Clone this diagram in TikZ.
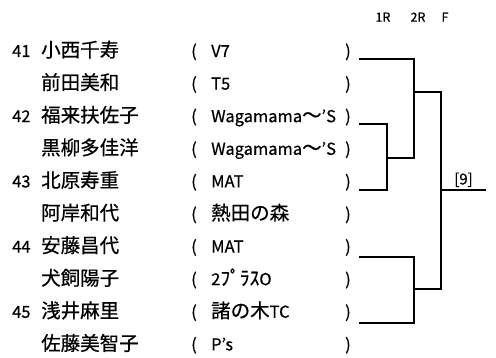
\documentclass[tikz,border=0pt]{standalone}
\usepackage{fontspec}
\setmainfont{Noto Sans CJK JP}[FakeBold=0.6]
\newcommand\bigjp[1]{{\fontsize{19.5}{19.5}\selectfont#1}}
\tikzset{
	entry/.style={anchor=base west,inner sep=0pt,font=\fontsize{16.5}{16.5}\selectfont},
	round/.style={anchor=base,inner sep=0pt,font=\fontsize{12.5}{12.5}\selectfont},
	bracket/.style={line width=2pt}
}
\begin{document}
\begin{tikzpicture}[x=1pt,y=-1pt]
	\useasboundingbox (0,0) rectangle (496,358);
	\node[round](h1)at(383,21.7){1R};
	\node[round](h2)at(418,21.7){2R};
	\node[round](h3)at(445,21.7){F};
	\path(12,57)node[entry](n1){41}(41,57)node[entry](m1){\bigjp{小西千寿}}(191,57)node[entry](l1){(}(211,57)node[entry](c1){V7}(345,57)node[entry](r1){)};
	\path(41,89.6)node[entry](m2){\bigjp{前田美和}}(191,89.6)node[entry](l2){(}(211,89.6)node[entry](c2){T5}(345,89.6)node[entry](r2){)};
	\path(12,122.2)node[entry](n3){42}(41,122.2)node[entry](m3){\bigjp{福来扶佐子}}(191,122.2)node[entry](l3){(}(211,122.2)node[entry](c3){Wagamama\bigjp{～}'S}(345,122.2)node[entry](r3){)};
	\path(41,154.8)node[entry](m4){\bigjp{黒柳多佳洋}}(191,154.8)node[entry](l4){(}(211,154.8)node[entry](c4){Wagamama\bigjp{～}'S}(345,154.8)node[entry](r4){)};
	\path(12,187.4)node[entry](n5){43}(41,187.4)node[entry](m5){\bigjp{北原寿重}}(191,187.4)node[entry](l5){(}(211,187.4)node[entry](c5){MAT}(345,187.4)node[entry](r5){)};
	\path(41,220)node[entry](m6){\bigjp{阿岸和代}}(191,220)node[entry](l6){(}(211,220)node[entry](c6){\bigjp{熱田の森}}(345,220)node[entry](r6){)};
	\path(12,252.6)node[entry](n7){44}(41,252.6)node[entry](m7){\bigjp{安藤昌代}}(191,252.6)node[entry](l7){(}(211,252.6)node[entry](c7){MAT}(345,252.6)node[entry](r7){)};
	\path(41,285.2)node[entry](m8){\bigjp{犬飼陽子}}(191,285.2)node[entry](l8){(}(211,285.2)node[entry](c8){2\bigjp{ﾌﾟﾗｽ}O}(345,285.2)node[entry](r8){)};
	\path(12,317.8)node[entry](n9){45}(41,317.8)node[entry](m9){\bigjp{浅井麻里}}(191,317.8)node[entry](l9){(}(211,317.8)node[entry](c9){\bigjp{諸の木}TC}(345,317.8)node[entry](r9){)};
	\path(41,350.4)node[entry](m10){\bigjp{佐藤美智子}}(191,350.4)node[entry](l10){(}(211,350.4)node[entry](c10){P's}(345,350.4)node[entry](r10){)};
	\coordinate(s1)at(359,59);
	\coordinate(s3)at(359,124);
	\coordinate(s5)at(359,190);
	\coordinate(s7)at(359,257);
	\coordinate(s9)at(359,323);
	\coordinate(q35)at(387,158);
	\coordinate(q79)at(414,289);
	\coordinate(q15)at(414,92);
	\coordinate(fx)at(441,190);
	\coordinate(win)at(486,190);
	\draw[bracket](s1)-|(q35-|q15)--(q35);
	\draw[bracket](s3)-|(q35)|-(s5);
	\draw[bracket](q15)-|(fx)|-(q79);
	\draw[bracket](s7)-|(q79)|-(s9);
	\draw[bracket](fx)--node[above=2pt,inner sep=0pt,font=\fontsize{15}{15}\selectfont](champ){[9]}(win);
\end{tikzpicture}
\end{document}
